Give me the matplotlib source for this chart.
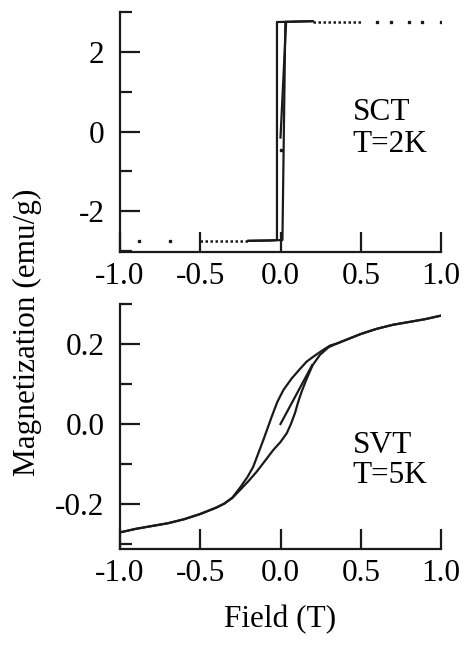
import matplotlib
matplotlib.use("Agg")
import matplotlib.pyplot as plt
from matplotlib.ticker import MultipleLocator

plt.rcParams['font.family'] = ['Liberation Serif', 'DejaVu Serif']
plt.rcParams['axes.unicode_minus'] = False

# ---------- data: SCT, T=2K ----------
sct_desc_H = [0.20, 0.10, 0.0, -0.022, -0.022, -0.06, -0.20]
sct_desc_M = [2.77, 2.76, 2.75, 2.75, -2.72, -2.73, -2.74]
sct_asc_H = [-0.20, -0.06, 0.012, 0.03, 0.10, 0.20]
sct_asc_M = [-2.74, -2.73, -2.72, 2.75, 2.76, 2.77]
sct_virgin_H = [0.0, 0.035]
sct_virgin_M = [-0.15, 2.75]
sct_dense_top_H = [0.20, 0.51]
sct_dense_top_M = [2.76, 2.76]
sct_dense_bot_H = [-0.50, -0.20]
sct_dense_bot_M = [-2.75, -2.75]
sct_sparse_H = [0.60, 0.69, 0.80, 0.88, 1.00, -0.88, -0.69, 0.0]
sct_sparse_M = [2.76, 2.76, 2.76, 2.76, 2.76, -2.75, -2.75, -0.45]

# ---------- data: SVT, T=5K ----------
svt_desc_H = [1.0, 0.9, 0.8, 0.7, 0.6, 0.5, 0.4, 0.35, 0.308, 0.25, 0.2, 0.163, 0.12,
              0.07, 0.018, -0.02, -0.055, -0.08, -0.107, -0.14, -0.17, -0.205, -0.25,
              -0.3, -0.35, -0.4, -0.5, -0.6, -0.7, -0.8, -0.9, -1.0]
svt_desc_M = [0.271, 0.262, 0.255, 0.248, 0.238, 0.225, 0.209, 0.201, 0.196, 0.181,
              0.167, 0.156, 0.137, 0.114, 0.085, 0.055, 0.018, -0.01, -0.04, -0.075,
              -0.107, -0.132, -0.158, -0.184, -0.199, -0.209, -0.225, -0.238, -0.248,
              -0.255, -0.262, -0.271]
svt_asc_H = [-1.0, -0.9, -0.8, -0.7, -0.6, -0.5, -0.4, -0.35, -0.3, -0.252, -0.2,
             -0.148, -0.1, -0.045, 0.0, 0.039, 0.065, 0.09, 0.11, 0.132, 0.16, 0.2,
             0.246, 0.3, 0.35, 0.4, 0.5, 0.6, 0.7, 0.8, 0.9, 1.0]
svt_asc_M = [-0.271, -0.262, -0.255, -0.248, -0.238, -0.225, -0.209, -0.199, -0.185,
             -0.165, -0.143, -0.119, -0.094, -0.065, -0.045, -0.023, 0.0, 0.027, 0.055,
             0.081, 0.11, 0.147, 0.173, 0.192, 0.201, 0.209, 0.225, 0.238, 0.248,
             0.255, 0.262, 0.271]
svt_virgin_H = [0.0, 0.197]
svt_virgin_M = [0.0, 0.147]

xticks = [-1.0, -0.5, 0.0, 0.5, 1.0]
xticklabels = ['-1.0', '-0.5', '0.0', '0.5', '1.0']

W, H = 469, 647
fig = plt.figure(figsize=(W / 100, H / 100), dpi=100)

def px_axes(l, r, t, b):
    return fig.add_axes([l / W, 1 - b / H, (r - l) / W, (b - t) / H])

ax1 = px_axes(120, 441, 12, 252)
ax2 = px_axes(120, 441, 304, 549)

FS = 22.5
LW = 1.6
INK = '#1a1a1a'
for ax in (ax1, ax2):
    for s in ('top', 'right'):
        ax.spines[s].set_visible(False)
    for s in ('left', 'bottom'):
        ax.spines[s].set_linewidth(1.6)
        ax.spines[s].set_color(INK)
    ax.set_xlim(-1, 1)
    ax.set_xticks(xticks)
    ax.set_xticklabels(xticklabels)
    ax.tick_params(axis='both', which='major', direction='in', length=14.5,
                   width=1.6, labelsize=FS, color=INK)
    ax.tick_params(axis='both', which='minor', direction='in', length=8.5, width=1.6,
                   color=INK)
    ax.tick_params(axis='y', which='major', pad=11)
    ax.tick_params(axis='x', which='major', pad=7)

# top panel
ax1.plot(sct_desc_H, sct_desc_M, color=INK, lw=LW)
ax1.plot(sct_asc_H, sct_asc_M, color=INK, lw=LW)
ax1.plot(sct_virgin_H, sct_virgin_M, color=INK, lw=LW)
ax1.plot(sct_dense_top_H, sct_dense_top_M, color=INK, lw=1.8, ls=(0, (1, 1)))
ax1.plot(sct_dense_bot_H, sct_dense_bot_M, color=INK, lw=1.8, ls=(0, (1, 1)))
ax1.plot(sct_sparse_H, sct_sparse_M, ls='none', marker='s', ms=1.8, color=INK)
ax1.set_ylim(-3.02, 3.0)
ax1.yaxis.set_major_locator(MultipleLocator(2))
ax1.yaxis.set_minor_locator(MultipleLocator(1))
ax1.text(0.45, 0.3, 'SCT', fontsize=FS, va='baseline', ha='left')
ax1.text(0.45, -0.5, 'T=2K', fontsize=FS, va='baseline', ha='left')

# bottom panel
ax2.plot(svt_desc_H, svt_desc_M, color=INK, lw=LW)
ax2.plot(svt_asc_H, svt_asc_M, color=INK, lw=LW)
ax2.plot(svt_virgin_H, svt_virgin_M, color=INK, lw=LW)
ax2.set_ylim(-0.3125, 0.30)
ax2.set_yticks([-0.2, 0.0, 0.2])
ax2.set_yticklabels(['-0.2', '0.0', '0.2'])
ax2.yaxis.set_minor_locator(MultipleLocator(0.1))
ax2.text(0.45, -0.0725, 'SVT', fontsize=FS, va='baseline', ha='left')
ax2.text(0.45, -0.1475, 'T=5K', fontsize=FS, va='baseline', ha='left')

fig.text(27 / W, 1 - 332 / H, 'Magnetization (emu/g)', rotation=90,
         ha='center', va='center', fontsize=FS)
fig.text(280 / W, 1 - 620 / H, 'Field (T)', ha='center', va='center', fontsize=FS)

fig.savefig('out.png', dpi=100)
